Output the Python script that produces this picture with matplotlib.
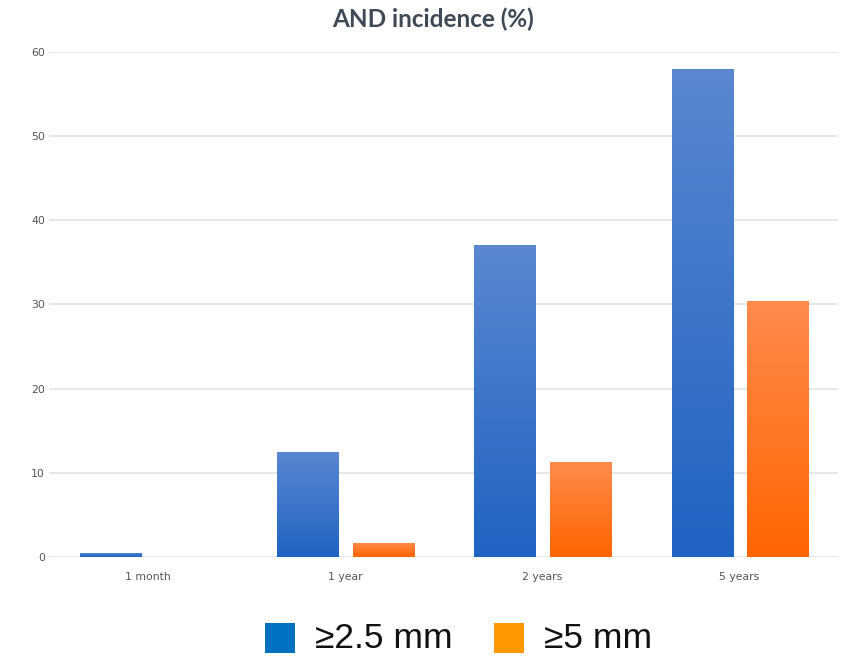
import numpy as np
import matplotlib
matplotlib.use("Agg")
import matplotlib.pyplot as plt
from matplotlib.colors import LinearSegmentedColormap
from matplotlib.patches import Rectangle

categories = ["1 month", "1 year", "2 years", "5 years"]
series_names = ["\u22652.5 mm", "\u22655 mm"]
values_25mm = [0.5, 12.5, 37.0, 58.0]
values_5mm = [0.0, 1.7, 11.3, 30.4]
y_ticks = [0, 10, 20, 30, 40, 50, 60]

# gradient stops (top, bottom) for each series and flat legend swatches
grad_colors = [("#5b87d0", "#1f63c3"), ("#ff8b4c", "#ff6500")]
legend_colors = ["#0070c0", "#ff9900"]

fig = plt.figure(figsize=(8.48, 6.56), dpi=100)
ax = fig.add_axes([0.058, 0.151, 0.930, 0.770])

x = np.arange(len(categories))
width = 0.313
offsets = [-0.187, 0.197]

for vals, off, (c_top, c_bot) in zip([values_25mm, values_5mm], offsets, grad_colors):
    cmap = LinearSegmentedColormap.from_list("g", [c_bot, c_top])
    bars = ax.bar(x + off, vals, width, color="none", edgecolor="none", zorder=3)
    for b in bars:
        h = b.get_height()
        if h <= 0:
            continue
        x0 = b.get_x()
        grad = np.linspace(0, 1, 256).reshape(-1, 1)
        im = ax.imshow(grad, cmap=cmap, origin="lower", aspect="auto",
                       extent=[x0, x0 + b.get_width(), 0, h], zorder=3)
        im.set_clip_path(b)

ax.set_xlim(-0.5, len(categories) - 0.5)
ax.set_ylim(0, 60)
ax.set_yticks(y_ticks)
ax.set_xticks(x)
ax.set_xticklabels(categories)
ax.grid(axis="y", color="#e3e3e6", linewidth=1.2, zorder=0)
for s in ax.spines.values():
    s.set_visible(False)
ax.tick_params(axis="both", length=0, labelsize=7.8, colors="#555555")
ax.tick_params(axis="y", pad=3)
ax.tick_params(axis="x", pad=11)

fig.text(0.511, 0.971, "AND incidence (%)", ha="center", va="center",
         fontsize=17.5, fontweight="bold", color="#404a57", family="Lato")

# legend row at the bottom
sw = 30 / 848
sh = 30 / 656
legend_x = [265 / 848, 494 / 848]
for lx, col, name in zip(legend_x, legend_colors, series_names):
    fig.add_artist(Rectangle((lx, 3 / 656), sw, sh, transform=fig.transFigure,
                             facecolor=col, edgecolor="none"))
    fig.text(lx + sw + 20 / 848, 18 / 656, name, ha="left", va="center",
             fontsize=25.5, color="#111111", family="Liberation Sans")

fig.savefig("out.png", dpi=100)
